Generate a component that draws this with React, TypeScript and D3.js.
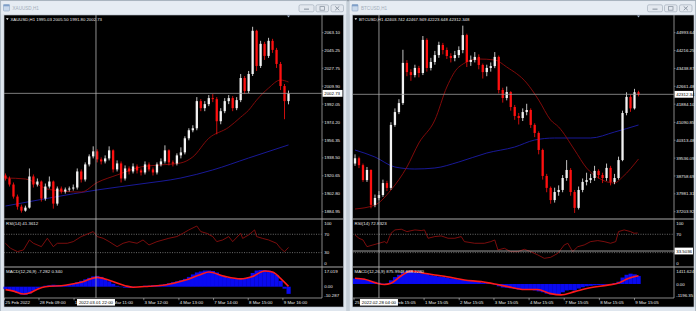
import React from "react";
import * as d3 from "d3";

// ---------------- DATA ----------------
// XAUUSD H1 (left)
const goldFirstOpen = 1921;
const goldClose = [1918,1912,1900,1890,1886,1889,1920,1912,1915,1898,1910,1915,1893,1908,1905,1907,1908,1909,1925,1917,1932,1940,1945,1937,1935,1938,1946,1927,1933,1918,1928,1925,1930,1926,1924,1932,1927,1924,1932,1935,1946,1934,1933,1941,1944,1958,1966,1968,1995,1988,1992,1998,1997,1975,1985,1995,1998,1988,1996,2018,2005,2022,2065,2030,2052,2040,2055,2046,2032,2010,1995.03,2002.73];
const goldHigh = [1923,1920,1914,1902,1892,1891,1928,1922,1918,1916,1913,1920,1916,1910,1910,1909,1910,1912,1928,1927,1934,1942,1950,1947,1939,1941,1950,1947,1936,1935,1931,1930,1933,1932,1928,1935,1934,1929,1934,1938,1951,1947,1936,1943,1949,1960,1968,1971,1999,1997,1995,2001,2002,1999,1988,1998,2001,2000,1999,2022,2020,2025,2069,2066,2055,2054,2058,2057,2048,2034,2012,2005.5];
const goldLow = [1916,1910,1898,1887,1884,1885,1888,1909,1910,1895,1896,1908,1888,1891,1903,1903,1905,1906,1907,1914,1915,1930,1938,1934,1932,1933,1936,1924,1925,1914,1916,1922,1923,1923,1921,1922,1925,1921,1922,1930,1933,1931,1930,1931,1938,1942,1956,1964,1966,1985,1985,1990,1994,1962,1972,1983,1992,1985,1986,1994,2002,2003,2020,2025,2028,2036,2038,2043,2028,2006,1977,1991.8];
const goldMaRed: [number, number][] = [[0,1918.5],[5,1917.5],[11,1907],[19,1904.5],[23,1914],[28,1921.5],[34,1929.5],[39,1931.5],[44,1933.5],[47,1939.5],[51,1958],[56,1969],[59,1979],[61,1986],[63,1996],[66,2008],[69,2016],[71,2014]];
const goldMaBlue: [number, number][] = [[0,1890.6],[11,1898.6],[23,1906.6],[34,1912.6],[44,1918.5],[52,1926.5],[61,1938.4],[71,1951.4]];
const goldRsi: [number, number][] = [[0,50.4],[1.25,39.5],[3,32.2],[4.5,35.8],[6,57.6],[7,50.4],[9,43],[10.5,61.3],[12,43],[13,50.4],[15.5,50.4],[17,54],[19,65],[20,68.5],[22,75.8],[23,65],[24.5,61.3],[26,54],[28,43],[29.5,50.4],[31,54],[33,50.4],[34.5,57.6],[36,46.7],[38,54],[39.5,57.6],[41,61.3],[43,65],[44.5,72],[46,79.5],[48,88],[49,75.8],[50.5,72],[52,65],[53,54],[54.5,57.6],[56,65],[57,54],[59,72],[59.5,61],[61,68.5],[62.5,79.5],[63,65],[64.5,61],[66,57.6],[68,50.4],[69,39.5],[70,32],[71,41.36]];
const goldMacdHist = [-2.5,-3.5,-4.5,-6.5,-8,-8.3,-7,-4,-2,-0.5,1,1.5,2,1.8,1.5,1.8,2.2,3,4.5,6,7.5,9,10.5,11,10,8,5.5,3,1,-0.5,-1,-1,-0.5,0,0.5,1,1,1.5,1.5,2,2.5,3.5,4.5,5.5,6.5,8,10,12.5,14.5,15.5,16.5,16.5,16,14.5,12,10,9,8.5,8,8,8.5,9.5,14,16.5,17,17,16.5,15,12,6,-2,-7.282];
const goldMacdSignal: [number, number][] = [[0,-3],[2,-4.5],[4.6,-7.5],[6,-6.5],[8,-2.5],[10,0],[15,1.5],[19,4.5],[23,9.5],[26,6.5],[30,1],[32,-0.5],[36,0.5],[40,1.8],[45,6.5],[49,12.5],[51,15],[55,10.5],[59,8],[62,10.5],[65,16],[67,15],[69,8.5],[71,0.34]];
const goldPriceTicks = [2063.10,2045.25,2027.75,2009.90,1992.05,1974.20,1956.35,1938.50,1920.65,1902.80,1884.95];
const goldTimeLabels = ["25 Feb 2022","28 Feb 09:00","1 Mar 10:00","2 Mar 11:00","3 Mar 12:00","4 Mar 13:00","7 Mar 14:00","8 Mar 15:00","9 Mar 16:00"];
const goldTimeIdx = [-0.4,8.4,17.2,26,34.7,43.5,52.2,60.9,69.6];
const goldMacdTicks = [17.019, 0, -10.287];

// BTCUSD H1 (right)
const btcFirstOpen = 39300;
const btcClose = [39530,39230,38580,39020,37500,37800,37930,38450,38240,40980,41540,41930,43680,43280,43150,43460,43240,44680,43460,43720,44020,44460,44240,43980,43890,44020,44240,44890,43720,43810,43940,43590,43280,43460,43540,43940,42500,42150,42410,41760,41370,41280,41540,41630,40980,40630,39890,38760,38240,37710,38060,38150,38670,39020,38060,37370,38150,38500,38580,38670,38980,38800,38670,39110,38500,38670,39450,41500,42200,41700,42403.742,42312.348];
const btcHigh = [39700,39600,39300,39150,39050,37950,38100,38600,38550,41100,41700,42100,44250,43800,43400,43600,43550,44850,44750,43900,44200,44600,44550,44350,44100,44200,44400,45300,44950,44000,44150,44050,43650,43600,43700,44150,44000,42600,42650,42450,41850,41500,41700,41900,41700,41050,40700,39950,38850,38300,38250,38350,38800,39450,39100,38150,38300,38650,38900,38850,39200,39050,38900,39300,39200,38850,39600,41600,42400,42300,42550,42467.949];
const btcLow = [39200,39100,38500,38500,37350,37400,37700,37850,38100,38150,40900,41450,41850,43100,42900,43050,43050,43150,43300,43350,43600,43900,44050,43850,43700,43750,43900,44100,43500,43550,43700,43400,43000,43100,43300,43450,42350,41950,42050,41600,41200,41000,41150,41400,40850,40450,39700,38600,38050,37550,37600,37900,38050,38550,37900,37150,37300,38050,38350,38450,38550,38650,38450,38550,38350,38400,38600,39400,41400,41550,41650,42223.648];
const btcMaRed: [number, number][] = [[0,37321],[5,37495],[9,38148],[13,39149],[16,40194],[20,41193],[23,42630],[26,43500],[31,43849],[35,43806],[38,43500],[43,42804],[46,42065],[49,41193],[51,40890],[55,39889],[58,39106],[61,38670],[65,38453],[67,38714],[71,39497]];
const btcMaBlue: [number, number][] = [[0,39889],[5,39584],[10,39149],[15,39062],[20,39106],[26,39367],[33,39758],[40,40019],[45,40324],[50,40411],[59,40411],[65,40672],[71,40977]];
const btcRsi: [number, number][] = [[0,68.5],[1,61.3],[2,57.6],[3,43],[4.5,46.7],[6,50.4],[7.4,54],[8,50.4],[9,72],[10,79.5],[11.6,81],[13,75.8],[15,79.5],[16.6,78],[17.4,79.5],[18.3,61.3],[20,65],[21.6,66.4],[23.3,61.3],[25,61.3],[26.6,65],[27.4,54],[30,50.4],[32.4,50.4],[34,54],[35,57.6],[35.8,35.8],[37.4,39.5],[39,32.2],[40.8,32.2],[42.4,37.3],[44,32.2],[45.8,24.9],[47.4,17.6],[49,19.8],[50.8,28.5],[52.4,46.7],[53.3,50.4],[54.5,32.2],[55.8,43],[57.4,46.7],[59,54],[60.8,56.2],[62.4,54],[64,50.4],[65.3,54],[66,75.8],[67.4,79.5],[69,75.8],[69.9,72.2],[70.8,72.8]];
const btcMacdHist = [600,620,580,450,330,230,130,40,60,400,750,1000,1250,1411,1380,1250,1180,1150,1080,950,880,820,760,700,620,560,500,450,400,350,300,220,150,80,20,-50,-250,-380,-420,-470,-520,-600,-620,-640,-620,-700,-800,-900,-1050,-1150,-1196,-1150,-900,-700,-650,-700,-500,-350,-250,-200,-150,-120,-100,-80,0,100,250,700,1000,1120,1050,875.99];
const btcMacdSignal: [number, number][] = [[0,616],[2.4,507],[5,150],[7.4,-60],[9,72],[11.6,900],[14,1400],[16.6,1230],[20,977],[23,796],[27.4,434],[31.6,253],[35,0],[38.3,-290],[42.4,-600],[45.7,-600],[49,-1050],[51.6,-1180],[55,-832],[58.3,-470],[63.3,-120],[65.8,72],[68.3,560],[71,888.228]];
const btcPriceTicks = [44993.64,44216.25,43438.87,42661.48,41884.10,41090.85,40313.48,39536.09,38758.69,37981.31,37203.92];
const btcTimeLabels = ["25 Feb 2022","28 Feb 15:05","1 Mar 15:05","2 Mar 15:05","3 Mar 15:05","4 Mar 15:05","7 Mar 15:05","8 Mar 15:05","9 Mar 15:05"];
const btcTimeIdx = [-0.25,8.5,17.3,26.1,34.8,43.6,52.4,61.2,70];
const btcMacdTicks = [1411.624, 0, -1196.35];

const rsiLevels = [70, 30];
const rsiTicks = [100, 70, 30, 0];

// ---------------- LAYOUT ----------------
const TOP = 15, MAIN_B = 219, RSI_B = 267, MACD_B = 298, BOT = 307;
const FONT = "'Liberation Sans', Arial, sans-serif";
const FS = 4.4;

type PanelProps = {
  id: string;
  winL: number; winR: number; chartL: number; axisX: number; blackR: number;
  barL: number; barR: number;
  title: string; info: string;
  firstOpen: number; closes: number[]; highs: number[]; lows: number[];
  priceTicks: number[]; decimals: number;
  maRed: [number, number][]; maBlue: [number, number][];
  rsi: [number, number][]; rsiLabel: string;
  hist: number[]; signal: [number, number][]; macdTicks: number[]; macdDec: number[]; macdRange: [number, number]; macdLabel: string;
  timeLabels: string[]; timeIdx: number[];
  crossIdx: number; crossLabel: string;
  bidLabel: string;
  rsiCross?: { value: number; label: string };
};

function Panel(p: PanelProps) {
  const n = p.closes.length;
  const x = d3.scaleLinear().domain([0, n - 1]).range([p.barL, p.barR]);
  const pt = p.priceTicks;
  const y = d3.scaleLinear().domain([pt[pt.length - 1], pt[0]]).range([211.7, 32.7]);
  const yR = d3.scaleLinear().domain([0, 100]).range([266.4, 220.5]);
  const mt = p.macdTicks;
  const yM = d3.scaleLinear().domain([mt[2], mt[0]]).range(p.macdRange);

  const lineMA = d3.line<[number, number]>().x(d => x(d[0])).y(d => y(d[1])).curve(d3.curveMonotoneX);
  const lineR = d3.line<[number, number]>().x(d => x(d[0])).y(d => yR(d[1]));
  const lineS = d3.line<[number, number]>().x(d => x(d[0])).y(d => yM(d[1])).curve(d3.curveMonotoneX);

  const bw = 2.3;
  const step = (p.barR - p.barL) / (n - 1);
  const last = p.closes[n - 1];
  const base = (v: number) => v + FS * 0.36;
  const clampY = (v: number, lo: number, hi: number) => Math.max(lo, Math.min(hi, v));
  const cx = x(p.crossIdx);
  const wW = p.winR - p.winL;
  const boxL = cx - 19, boxR = cx + 19;

  const btnX = [p.winR - 48, p.winR - 31, p.winR - 16];
  const clipId = `tclip-${p.id}`;

  return (
    <g>
      <defs>
        <clipPath id={clipId}>
          <rect x={p.chartL} y={MACD_B} width={boxL - p.chartL} height={BOT - MACD_B} />
          <rect x={boxR} y={MACD_B} width={p.axisX + 20 - boxR} height={BOT - MACD_B} />
        </clipPath>
      </defs>
      {/* window frame */}
      <rect x={p.winL} y={0.5} width={wW} height={311} fill="#dfe6ee" stroke="#a9b3bf" strokeWidth={0.8} />
      <rect x={p.winL + 0.8} y={1.2} width={wW - 1.6} height={13} fill="#e6ecf3" />
      <rect x={p.winL + 3} y={4.5} width={6} height={6.5} rx={0.8} fill="#c9d9ec" stroke="#8fa6c2" strokeWidth={0.6} />
      <rect x={p.winL + 3} y={4.5} width={6} height={1.8} fill="#7f9fc9" />
      <text x={p.winL + 12} y={9.6} fontFamily={FONT} fontSize={4.6} fill="#a5afbd">{p.title}</text>
      {btnX.map((bx, i) => (
        <g key={i}>
          <rect x={bx} y={4.8} width={i === 0 ? 15 : 12.5} height={7} rx={1.5} fill="#e3e8ef" stroke="#9ba6b3" strokeWidth={0.6} />
          {i === 0 && <rect x={bx + 5} y={8.6} width={5} height={1.1} fill="#8d97a4" />}
          {i === 1 && <rect x={bx + 4} y={6.6} width={4.5} height={3.6} fill="none" stroke="#8d97a4" strokeWidth={0.8} />}
          {i === 2 && <path d={`M${bx + 4.2},${6.4}L${bx + 8.3},${10.2}M${bx + 8.3},${6.4}L${bx + 4.2},${10.2}`} stroke="#8d97a4" strokeWidth={1} />}
        </g>
      ))}
      {/* black chart area */}
      <rect x={p.chartL} y={TOP} width={p.blackR - p.chartL} height={BOT - TOP} fill="#000" stroke="#b8c0ca" strokeWidth={0.6} />

      {/* separators */}
      {[MAIN_B, RSI_B].map((sy, i) => (
        <line key={i} x1={p.chartL} x2={p.blackR} y1={sy} y2={sy} stroke="#a8a8a8" strokeWidth={1.2} />
      ))}
      <line x1={p.chartL} x2={p.axisX} y1={MACD_B} y2={MACD_B} stroke="#a8a8a8" strokeWidth={0.8} />
      <line x1={p.axisX} x2={p.axisX} y1={TOP} y2={MACD_B} stroke="#a8a8a8" strokeWidth={0.8} />

      {/* info text */}
      <path d={`M${p.chartL + 2},${18.2}L${p.chartL + 4.6},${18.2}L${p.chartL + 3.3},${20}Z`} fill="#fff" />
      <text x={p.chartL + 6.5} y={20.9} fontFamily={FONT} fontSize={4.3} fill="#e8e8e8">{p.info}</text>
      {/* shift marker */}
      <path d={`M${x(n - 1) - 1.5},${15.6}L${x(n - 1) + 1.5},${15.6}L${x(n - 1)},${17.4}Z`} fill="#9fb4cc" />

      {/* price ticks */}
      {pt.map((v, i) => (
        <g key={i}>
          <line x1={p.axisX} x2={p.axisX + 1.5} y1={y(v)} y2={y(v)} stroke="#a8a8a8" strokeWidth={0.6} />
          <text x={p.axisX + 2.2} y={base(y(v))} fontFamily={FONT} fontSize={FS} fill="#e8e8e8">{v.toFixed(p.decimals)}</text>
        </g>
      ))}

      {/* moving averages */}
      <path d={lineMA(p.maBlue) || ""} fill="none" stroke="#1c1ca8" strokeWidth={0.9} />
      <path d={lineMA(p.maRed) || ""} fill="none" stroke="#8e0b0b" strokeWidth={0.9} />

      {/* candles */}
      {p.closes.map((c, i) => {
        const o = i === 0 ? p.firstOpen : p.closes[i - 1];
        const up = c >= o;
        const col = up ? "#f2f2f2" : "#ff1010";
        const yt = y(Math.max(o, c));
        const yb = y(Math.min(o, c));
        return (
          <g key={i}>
            <line x1={x(i)} x2={x(i)} y1={y(p.highs[i])} y2={y(p.lows[i])} stroke={col} strokeWidth={0.8} />
            <rect x={x(i) - bw / 2} y={yt} width={bw} height={Math.max(0.8, yb - yt)} fill={col} />
          </g>
        );
      })}

      {/* bid line */}
      <line x1={p.chartL} x2={p.axisX} y1={y(last)} y2={y(last)} stroke="#9a9a9a" strokeWidth={0.8} />
      <rect x={p.axisX + 0.6} y={y(last) - 3.4} width={p.blackR - p.axisX - 1.6} height={6.8} fill="#fff" />
      <text x={p.axisX + 2.2} y={base(y(last))} fontFamily={FONT} fontSize={FS} fill="#000">{p.bidLabel}</text>

      {/* RSI */}
      <text x={p.chartL + 2} y={224.6} fontFamily={FONT} fontSize={4.4} fill="#e8e8e8">{p.rsiLabel}</text>
      {rsiLevels.map((lv) => (
        <line key={lv} x1={p.chartL} x2={p.axisX} y1={yR(lv)} y2={yR(lv)} stroke="#9a9a9a" strokeWidth={0.7} strokeDasharray="1 1.4" />
      ))}
      {rsiTicks.filter((lv) => !p.rsiCross || Math.abs(yR(lv) - yR(p.rsiCross.value)) > 6).map((lv) => (
        <text key={lv} x={p.axisX + 2.2} y={base(clampY(yR(lv), 223.2, 263.4))} fontFamily={FONT} fontSize={FS} fill="#e8e8e8">{lv}</text>
      ))}
      <path d={lineR(p.rsi) || ""} fill="none" stroke="#9a1010" strokeWidth={0.8} />
      {p.rsiCross && (
        <g>
          <line x1={p.chartL} x2={p.axisX} y1={yR(p.rsiCross.value)} y2={yR(p.rsiCross.value)} stroke="#b0b0b0" strokeWidth={0.9} />
          <rect x={p.axisX + 0.6} y={yR(p.rsiCross.value) - 3.4} width={p.blackR - p.axisX - 1.6} height={6.8} fill="#fff" />
          <text x={p.axisX + 2.2} y={base(yR(p.rsiCross.value))} fontFamily={FONT} fontSize={FS} fill="#000">{p.rsiCross.label}</text>
        </g>
      )}

      {/* MACD */}
      {p.hist.map((v, i) => (
        <rect key={i} x={x(i) - step / 2} y={Math.min(yM(v), yM(0))} width={step + 0.2} height={Math.abs(yM(v) - yM(0))} fill="#0a0af0" />
      ))}
      <path d={lineS(p.signal) || ""} fill="none" stroke="#ff1a1a" strokeWidth={1.6} />
      <text x={p.chartL + 2} y={273.2} fontFamily={FONT} fontSize={4.4} fill="#e8e8e8">{p.macdLabel}</text>
      {mt.map((v, i) => (
        <text key={i} x={p.axisX + 2.2} y={base(clampY(yM(v), 271, 295.2))} fontFamily={FONT} fontSize={FS} fill="#e8e8e8">{v.toFixed(p.macdDec[i])}</text>
      ))}

      {/* time axis */}
      <g clipPath={`url(#${clipId})`}>
        {p.timeLabels.map((t, i) => {
          const tx = Math.max(p.chartL + 0.5, x(p.timeIdx[i]));
          return (
            <g key={i}>
              <line x1={tx} x2={tx} y1={MACD_B} y2={MACD_B + 2.2} stroke="#c8c8c8" strokeWidth={0.6} />
              <text x={tx + 0.8} y={303.8} fontFamily={FONT} fontSize={FS} fill="#e8e8e8">{t}</text>
            </g>
          );
        })}
      </g>

      {/* crosshair */}
      <line x1={cx} x2={cx} y1={TOP} y2={MACD_B} stroke="#b4b4b4" strokeWidth={0.8} />
      <rect x={boxL} y={299} width={boxR - boxL} height={6.6} fill="#fff" />
      <text x={cx} y={303.8} textAnchor="middle" fontFamily={FONT} fontSize={FS} fill="#000">{p.crossLabel}</text>
    </g>
  );
}

export default function App() {
  return (
    <svg width={696} height={311} viewBox="0 0 696 311" style={{ position: "absolute", left: 0, top: 0, display: "block" }}>
      <rect x={0} y={0} width={696} height={311} fill="#d7dfe8" />
      <rect x={0} y={0} width={696} height={1.2} fill="#7d8690" />
      <Panel
        id="gold"
        winL={0.5} winR={347} chartL={4} axisX={322} blackR={343.5}
        barL={5.5} barR={288.5}
        title="XAUUSD,H1" info="XAUUSD,H1   1995.03 2005.50 1991.80 2002.73"
        firstOpen={goldFirstOpen} closes={goldClose} highs={goldHigh} lows={goldLow}
        priceTicks={goldPriceTicks} decimals={2}
        maRed={goldMaRed} maBlue={goldMaBlue}
        rsi={goldRsi} rsiLabel="RSI(14) 41.3612"
        hist={goldMacdHist} signal={goldMacdSignal} macdTicks={goldMacdTicks} macdDec={[3, 2, 3]} macdRange={[296.8, 270]}
        macdLabel="MACD(12,26,9) -7.282 0.340"
        timeLabels={goldTimeLabels} timeIdx={goldTimeIdx}
        crossIdx={22.7} crossLabel="2022.03.01 22:00"
        bidLabel="2002.73"
      />
      <Panel
        id="btc"
        winL={349} winR={695.5} chartL={352.5} axisX={674} blackR={694}
        barL={355} barR={638.5}
        title="BTCUSD,H1" info="BTCUSD,H1   42403.742 42467.949 42223.648 42312.348"
        firstOpen={btcFirstOpen} closes={btcClose} highs={btcHigh} lows={btcLow}
        priceTicks={btcPriceTicks} decimals={2}
        maRed={btcMaRed} maBlue={btcMaBlue}
        rsi={btcRsi} rsiLabel="RSI(14) 72.8323"
        hist={btcMacdHist} signal={btcMacdSignal} macdTicks={btcMacdTicks} macdDec={[3, 2, 2]} macdRange={[295, 271]}
        macdLabel="MACD(12,26,9) 875.9948 888.2280"
        timeLabels={btcTimeLabels} timeIdx={btcTimeIdx}
        crossIdx={6} crossLabel="2022.02.28 04:00"
        bidLabel="42312.34"
        rsiCross={{ value: 33.5, label: "33.5036" }}
      />
    </svg>
  );
}
